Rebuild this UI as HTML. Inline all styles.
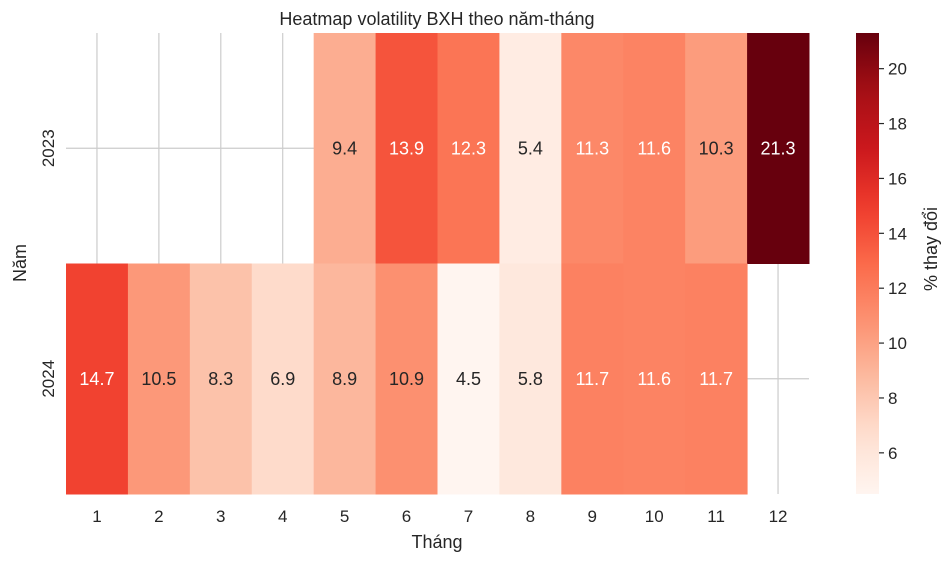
<!DOCTYPE html>
<html><head><meta charset="utf-8"><style>
body{margin:0;background:#fff;}
svg text{font-family:"Liberation Sans","DejaVu Sans",sans-serif;fill:#262626;}
</style></head><body>
<svg id="chart" width="951" height="561" xmlns="http://www.w3.org/2000/svg">
<defs><linearGradient id="cbg" x1="0" y1="1" x2="0" y2="0"></linearGradient></defs>
<text x="437" y="25" font-size="18" text-anchor="middle">Heatmap volatility BXH theo năm-tháng</text>
<g id="grid"></g><g id="cells"></g><g id="axes"></g><g id="cbar"></g>
<text x="437" y="548" font-size="18" text-anchor="middle">Tháng</text>
<text transform="translate(26,263) rotate(-90)" font-size="18" text-anchor="middle">Năm</text>
<text transform="translate(937,249) rotate(-90)" font-size="18" text-anchor="middle">% thay đổi</text>
</svg>
<script>
const months = [1,2,3,4,5,6,7,8,9,10,11,12];
const years = ["2023","2024"];
const vals2023 = [null,null,null,null,9.4,13.9,12.3,5.4,11.3,11.6,10.3,21.3];
const vals2024 = [14.7,10.5,8.3,6.9,8.9,10.9,4.5,5.8,11.7,11.6,11.7,null];
const cbTicks = [6,8,10,12,14,16,18,20];
const vmin = 4.5, vmax = 21.3;
const NS="http://www.w3.org/2000/svg";
const L=66,R=809,T=33,B=494;
const cw=(R-L)/months.length, rh=(B-T)/years.length;
const xPos=i=>L+i*cw, yPos=j=>T+j*rh;
const stops=["#fff5f0","#fee0d2","#fcbba1","#fc9272","#fb6a4a","#ef3b2c","#cb181d","#a50f15","#67000d"].map(h=>[parseInt(h.slice(1,3),16),parseInt(h.slice(3,5),16),parseInt(h.slice(5,7),16)]);
function cmap(v){let t=Math.max(0,Math.min(1,(v-vmin)/(vmax-vmin)))*(stops.length-1);let i=Math.min(Math.floor(t),stops.length-2),f=t-i;return stops[i].map((c,k)=>Math.round(c+(stops[i+1][k]-c)*f));}
function lum(c){const s=c.map(x=>{x/=255;return x<=0.03928?x/12.92:Math.pow((x+0.055)/1.055,2.4)});return 0.2126*s[0]+0.7152*s[1]+0.0722*s[2];}
function mk(tag,attrs,parent){const e=document.createElementNS(NS,tag);for(const k in attrs)e.setAttribute(k,attrs[k]);document.getElementById(parent).appendChild(e);return e;}
months.forEach((m,i)=>{const e=mk("line",{x1:xPos(i)+cw/2,x2:xPos(i)+cw/2,y1:T,y2:B,stroke:"#cccccc","stroke-width":1.2},"grid");

});
years.forEach((y,j)=>{const e=mk("line",{x1:L,x2:R,y1:yPos(j)+rh/2,y2:yPos(j)+rh/2,stroke:"#cccccc","stroke-width":1.2},"grid");

});
[vals2023,vals2024].forEach((row,j)=>{row.forEach((v,i)=>{if(v===null)return;const c=cmap(v);
const r=mk("rect",{x:xPos(i),y:yPos(j),width:cw+0.5,height:rh+0.5,fill:`rgb(${c})`},"cells");


const t=mk("text",{x:xPos(i)+cw/2,y:yPos(j)+rh/2+6,"font-size":18,"text-anchor":"middle"},"cells");


t.style.fill=lum(c)<0.408?"#ffffff":"#262626";t.textContent=v.toFixed(1);});});
months.forEach((m,i)=>{const t=mk("text",{x:xPos(i)+cw/2,y:B+28,"font-size":17,"text-anchor":"middle"},"axes");


t.textContent=m;});
years.forEach((y,j)=>{const t=mk("text",{transform:`translate(${L-12},${yPos(j)+rh/2}) rotate(-90)`,"font-size":17,"text-anchor":"middle"},"axes");


t.textContent=y;});
const CX=856,CW=23;const cy=v=>B-(v-vmin)/(vmax-vmin)*(B-T);
const g=document.getElementById("cbg");
for(let k=0;k<=20;k++){const v=vmin+(vmax-vmin)*k/20;const s=document.createElementNS(NS,"stop");s.setAttribute("offset",k/20);s.setAttribute("stop-color",`rgb(${cmap(v)})`);g.appendChild(s);}
const cb=mk("rect",{x:CX,y:T,width:CW,height:B-T,fill:"url(#cbg)"},"cbar");


cbTicks.forEach(v=>{const l=mk("line",{x1:CX+CW,x2:CX+CW+5,y1:cy(v),y2:cy(v),stroke:"#262626","stroke-width":1.2},"cbar");


const t=mk("text",{x:CX+CW+9,y:cy(v)+6,"font-size":17},"cbar");


t.textContent=v;});
</script>
</body></html>
